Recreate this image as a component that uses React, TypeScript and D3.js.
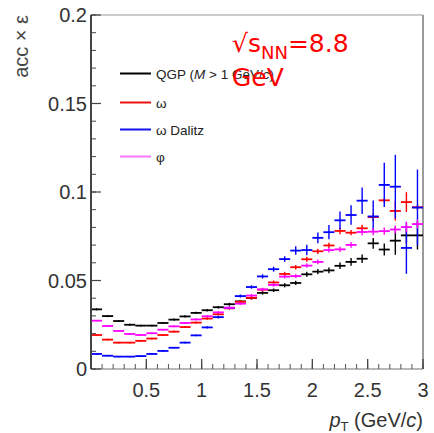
import React from 'react';
import * as d3 from 'd3';

// ---- data ----
const ptLow = [0, 0.1, 0.2, 0.3, 0.4, 0.5, 0.6, 0.7, 0.8, 0.9, 1.0, 1.1, 1.2, 1.3, 1.4, 1.5, 1.6, 1.7, 1.8, 1.9, 2.0, 2.1, 2.2, 2.3, 2.4, 2.5, 2.6, 2.7, 2.8, 2.9];
const binWidth = 0.1;

const qgp = [0.0337, 0.0299, 0.0271, 0.025, 0.0245, 0.0245, 0.026, 0.0279, 0.0297, 0.0317, 0.0332, 0.0349, 0.0366, 0.0382, 0.0401, 0.043, 0.0445, 0.0473, 0.0486, 0.0535, 0.055, 0.0557, 0.0583, 0.0605, 0.0623, 0.071, 0.0675, 0.0725, 0.0755, 0.0755];
const qgpErr = [0.0006, 0.0006, 0.0005, 0.0005, 0.0005, 0.0005, 0.0005, 0.0006, 0.0006, 0.0006, 0.0007, 0.0007, 0.0008, 0.0008, 0.0009, 0.001, 0.001, 0.0012, 0.0012, 0.0014, 0.0015, 0.0016, 0.0018, 0.0022, 0.0024, 0.003, 0.0034, 0.008, 0.0045, 0.008];

const omega = [0.0192, 0.0166, 0.0149, 0.0149, 0.0159, 0.0172, 0.0192, 0.0211, 0.0237, 0.0262, 0.0285, 0.0309, 0.0343, 0.038, 0.0402, 0.0448, 0.0489, 0.0537, 0.0575, 0.062, 0.0665, 0.0698, 0.078, 0.077, 0.0795, 0.0858, 0.0953, 0.0893, 0.0943, 0.0914];
const omegaErr = [0.0005, 0.0005, 0.0005, 0.0005, 0.0005, 0.0005, 0.0005, 0.0006, 0.0006, 0.0006, 0.0007, 0.0007, 0.0008, 0.0008, 0.0009, 0.001, 0.0011, 0.0012, 0.0013, 0.0014, 0.0015, 0.0015, 0.0018, 0.0015, 0.002, 0.0022, 0.0012, 0.0055, 0.0056, 0.0015];

const dalitz = [0.0085, 0.0075, 0.007, 0.007, 0.0073, 0.0085, 0.0102, 0.012, 0.0149, 0.019, 0.0235, 0.0293, 0.0346, 0.0412, 0.0463, 0.0523, 0.0564, 0.0621, 0.0669, 0.0672, 0.0741, 0.0773, 0.084, 0.087, 0.0951, 0.0862, 0.104, 0.103, 0.0684, 0.0912];
const dalitzErr = [0.0003, 0.0003, 0.0003, 0.0003, 0.0003, 0.0003, 0.0004, 0.0004, 0.0005, 0.0005, 0.0006, 0.0007, 0.0008, 0.0009, 0.001, 0.0012, 0.0014, 0.0016, 0.0024, 0.003, 0.003, 0.004, 0.005, 0.0055, 0.0075, 0.009, 0.0125, 0.018, 0.0146, 0.0215];

const phi = [0.0273, 0.0243, 0.0215, 0.0198, 0.0192, 0.0202, 0.0222, 0.0241, 0.026, 0.028, 0.0298, 0.032, 0.0346, 0.0369, 0.0415, 0.045, 0.0475, 0.0522, 0.0525, 0.0584, 0.0605, 0.0672, 0.0676, 0.0701, 0.0774, 0.0776, 0.0779, 0.0788, 0.0802, 0.0819];
const phiErr = [0.0004, 0.0004, 0.0004, 0.0004, 0.0004, 0.0004, 0.0004, 0.0005, 0.0005, 0.0005, 0.0006, 0.0006, 0.0007, 0.0007, 0.0008, 0.0009, 0.001, 0.001, 0.0011, 0.0012, 0.0013, 0.0014, 0.0015, 0.0016, 0.0018, 0.002, 0.002, 0.0022, 0.003, 0.0025];

const seriesNames = ['QGP', 'ω', 'ω Dalitz', 'φ'];
const seriesColors = ['#000000', '#ff0000', '#0000ff', '#ff00ff'];
const legendColors = ['#000000', '#ee1111', '#1111ee', '#ff77ff'];

const xDomain = [0, 3];
const yDomain = [0, 0.2];

// ---- layout ----
const W = 434;
const H = 433;
const L = 91;
const R = 423;
const T = 15;
const B = 369;

export default function App() {
  const x = d3.scaleLinear().domain(xDomain).range([L, R]);
  const y = d3.scaleLinear().domain(yDomain).range([B, T]);

  const xMajor = x.ticks(6);
  const xMinor = x.ticks(30);
  const yMajor = y.ticks(4);
  const yMinor = y.ticks(20);

  const allSeries = [
    { v: qgp, e: qgpErr },
    { v: omega, e: omegaErr },
    { v: dalitz, e: dalitzErr },
    { v: phi, e: phiErr },
  ];

  const labelFont = '"Liberation Sans", Arial, Helvetica, sans-serif';
  const legendY = [73.5, 102.5, 129.5, 156.5];

  return (
    <div style={{ position: 'absolute', left: 0, top: 0 }}>
      <svg width={W} height={H} style={{ display: 'block' }}>
        <rect x={0} y={0} width={W} height={H} fill="#ffffff" />

        {/* frame top/right */}
        <line x1={L} x2={R} y1={T} y2={T} stroke="#9a9a9a" strokeWidth={1.2} />
        <line x1={R} x2={R} y1={T} y2={B} stroke="#9a9a9a" strokeWidth={2} />

        {/* data */}
        {allSeries.map((s, si) => (
          <g key={si} stroke={seriesColors[si]} fill="none">
            {s.v.map((v, i) => {
              const x0 = x(ptLow[i]);
              const x1 = x(ptLow[i] + binWidth);
              const xc = x(ptLow[i] + binWidth / 2);
              return (
                <g key={i}>
                  <line x1={x0} x2={x1} y1={y(v)} y2={y(v)} strokeWidth={1.8} />
                  <line x1={xc} x2={xc} y1={y(v - s.e[i])} y2={y(v + s.e[i])} strokeWidth={1.4} />
                </g>
              );
            })}
          </g>
        ))}

        {/* bottom axis */}
        <line x1={L} x2={R} y1={B} y2={B} stroke="#a0a0a0" strokeWidth={1.5} />
        {xMinor.map((t, i) => (
          <line key={'xm' + i} x1={x(t)} x2={x(t)} y1={B} y2={B - 5} stroke="#555" strokeWidth={1} />
        ))}
        {xMajor.map((t, i) => (
          <line key={'xM' + i} x1={x(t)} x2={x(t)} y1={B} y2={B - 10} stroke="#444" strokeWidth={1.3} />
        ))}
        {xMajor.filter((t) => t > 0).map((t, i) => (
          <text key={'xl' + i} x={x(t)} y={397} textAnchor="middle" fontFamily={labelFont} fontSize={20} fill="#333">
            {d3.format('')(t)}
          </text>
        ))}

        {/* left axis */}
        <line x1={L} x2={L} y1={T} y2={B} stroke="#444" strokeWidth={2} />
        {yMinor.map((t, i) => (
          <line key={'ym' + i} x1={L} x2={L + 5} y1={y(t)} y2={y(t)} stroke="#444" strokeWidth={1} />
        ))}
        {yMajor.map((t, i) => (
          <line key={'yM' + i} x1={L} x2={L + 10} y1={y(t)} y2={y(t)} stroke="#444" strokeWidth={1.2} />
        ))}
        {yMajor.map((t, i) => (
          <text key={'yl' + i} x={87} y={y(t) + 7} textAnchor="end" fontFamily={labelFont} fontSize={20} fill="#333">
            {d3.format('')(t)}
          </text>
        ))}

        {/* axis titles */}
        <text transform={`translate(27.5, ${T}) rotate(-90)`} textAnchor="end" fontFamily={labelFont} fontSize={20} fill="#444">
          acc × ε
        </text>
        <text x={R} y={427} textAnchor="end" fontFamily={labelFont} fontSize={20} fill="#333">
          <tspan fontStyle="italic">p</tspan>
          <tspan fontSize={13} dy={4}>T</tspan>
          <tspan dy={-4}> (GeV/</tspan>
          <tspan fontStyle="italic">c</tspan>
          <tspan>)</tspan>
        </text>

        {/* legend */}
        {seriesNames.map((name, i) => (
          <g key={'lg' + i}>
            <line x1={120} x2={151} y1={legendY[i]} y2={legendY[i]} stroke={legendColors[i]} strokeWidth={2} />
            <text x={156} y={legendY[i] + 5.5} fontFamily={labelFont} fontSize={13.5} fill="#222">
              {i === 0 ? (
                <>
                  <tspan>QGP (</tspan>
                  <tspan fontStyle="italic">M</tspan>
                  <tspan> &gt; 1 GeV/</tspan>
                  <tspan fontStyle="italic">c</tspan>
                  <tspan>)</tspan>
                </>
              ) : (
                name
              )}
            </text>
          </g>
        ))}

        {/* annotation */}
        <text x={232} y={52} fontFamily='"DejaVu Sans", sans-serif' fontSize={25} fill="#ff0000">
          <tspan>√s</tspan>
          <tspan fontSize={18} dy={7}>NN</tspan>
          <tspan dy={-7}>=8.8</tspan>
        </text>
        <text x={232} y={86} fontFamily='"DejaVu Sans", sans-serif' fontSize={25} fill="#ff0000">
          GeV
        </text>
      </svg>
    </div>
  );
}
